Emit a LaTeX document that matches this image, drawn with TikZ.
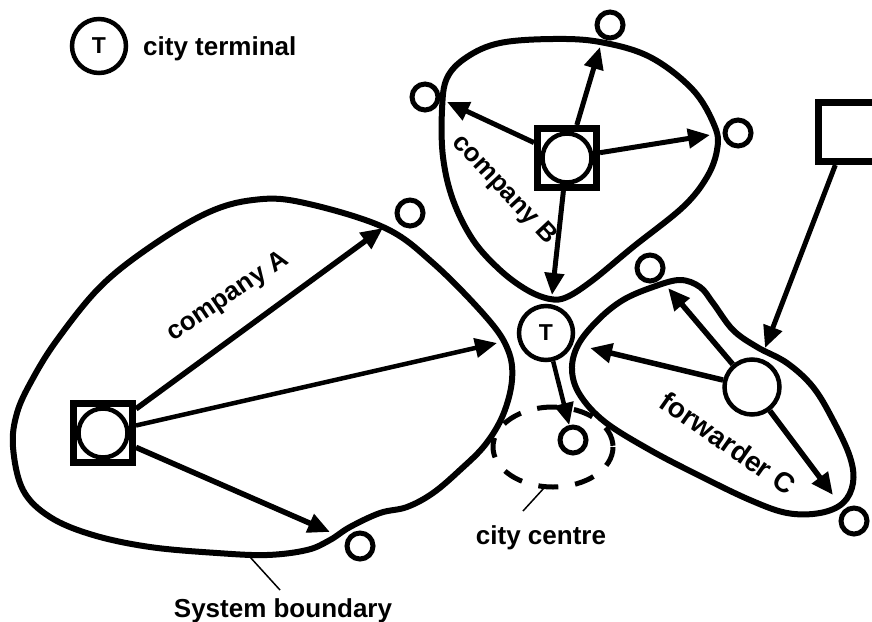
\documentclass[tikz,border=0pt]{standalone}
\usepackage{fontspec}
\setmainfont{Liberation Sans}
\usepackage{tikz}
\usetikzlibrary{arrows.meta,positioning}
\tikzstyle{arrow} = [line width=5.5pt,-{Triangle[length=22pt,width=19pt]}]

\begin{document}
\begin{tikzpicture}[x=1pt,y=-1pt]
    \tikzstyle{depot} = [rectangle, draw, line width=7pt, minimum size=59pt, inner sep=0pt, fill=white]
    \tikzstyle{hub} = [circle, draw, line width=4.5pt, minimum size=49pt, inner sep=0pt, fill=white]
    \tikzstyle{cust} = [circle, draw, line width=5pt, minimum size=26pt, inner sep=0pt]
    \tikzstyle{term} = [circle, draw, line width=4.5pt, minimum size=54pt, inner sep=0pt, font=\fontsize{23}{23}\selectfont\bfseries]
    \tikzstyle{region} = [line width=6pt, line join=round]
    \tikzstyle{lbl} = [font=\fontsize{26}{30}\selectfont\bfseries, inner sep=0pt]
    \tikzstyle{leader} = [line width=1.5pt]

    \clip (0,0) rectangle (872,621);

    % Boundaries
    \draw[region] plot[smooth cycle, tension=0.6] coordinates {
        (300,202) (383,227) (433,263) (487,318) (508,350) (512,380) (503,415)
        (485,445) (460,470) (433,493) (407,507) (380,513) (350,527) (330,540)
        (307,550) (267,555) (217,553) (150,547) (93,535) (50,517) (23,490)
        (13,447) (17,413) (32,380) (57,340) (100,287) (150,247) (207,213) (253,200)};
    \draw[region] plot[smooth cycle, tension=0.6] coordinates {
        (447,78) (467,57) (500,43) (553,39) (600,42) (650,57) (693,90) (715,127)
        (717,150) (707,177) (683,207) (633,247) (593,280) (567,297) (550,299)
        (527,290) (500,270) (473,240) (453,200) (443,157) (442,110)};
    \draw[region] plot[smooth cycle, tension=0.6] coordinates {
        (653,287) (680,280) (700,287) (713,303) (733,330) (757,347) (787,363)
        (813,387) (833,420) (850,457) (853,483) (843,503) (820,513) (787,513)
        (750,500) (700,476) (650,450) (605,422) (580,395) (572,370) (578,345)
        (598,320) (623,300)};
    \draw[line width=5pt, dash pattern=on 20pt off 17pt] (553,447) ellipse (60 and 40);

    % Legend
    \node[term] (legT) at (99,46) {T};
    \node[lbl, anchor=base west] (legtxt) at (143,55) {city terminal};

    % Nodes
    \node[depot] (depA) at (103,433) {};
    \node[hub] (hubA) at (depA) {};
    \node[depot] (depB) at (567,158) {};
    \node[hub] (hubB) at (depB) {};
    \node[hub, minimum size=55pt] (hubC) at (752,387) {};
    \node[depot] (box) at (848,132) {};
    \node[term] (term) at (546,333) {T};

    \node[cust] (custA1) at (410,213) {};
    \node[cust] (custA2) at (360,546) {};
    \node[cust] (custB1) at (610,25) {};
    \node[cust] (custB2) at (425,97) {};
    \node[cust] (custB3) at (738,133) {};
    \node[cust] (custCC) at (573,440) {};
    \node[cust] (custC1) at (650,268) {};
    \node[cust] (custC2) at (854,521) {};

    \coordinate (a1) at (383,228);
    \coordinate (a2) at (497,343);
    \coordinate (a3) at (330,532);
    \coordinate (b1) at (600,47);
    \coordinate (b2) at (447,102);
    \coordinate (b3) at (710,135);
    \coordinate (b4) at (552,295);
    \coordinate (c1) at (668,288);
    \coordinate (c2) at (590,348);
    \coordinate (c3) at (833,495);
    \coordinate (cin) at (765,348);

    % Arrows
    \draw[arrow] (depA) -- (a1);
    \draw[arrow, line width=4.5pt] (depA) -- (a2);
    \draw[arrow] (depA) -- (a3);
    \draw[arrow, line width=5pt] (depB) -- (b1);
    \draw[arrow, line width=5pt] (depB) -- (b2);
    \draw[arrow, line width=5pt] (depB) -- (b3);
    \draw[arrow, line width=5pt] (depB) -- (b4);
    \draw[arrow] (hubC) -- (c1);
    \draw[arrow] (hubC) -- (c2);
    \draw[arrow] (hubC) -- (c3);
    \draw[arrow, line width=5pt] (box) -- (cin);
    \draw[arrow, line width=4.5pt] (term) -- (custCC);

    % Labels
    \node[lbl, rotate=34] (labA) at (228,297) {company A};
    \node[lbl, rotate=-47] (labB) at (504,190) {company B};
    \node[lbl, rotate=-35, font=\fontsize{28}{30}\selectfont\bfseries] (labC) at (728,443) {forwarder C};
    \node[lbl, anchor=base] (cctxt) at (541,544) {city centre};
    \node[lbl, anchor=base] (sbtxt) at (283,617) {System boundary};
    \coordinate (ccend) at (544,488);
    \coordinate (ccfoot) at (523,511);
    \coordinate (sbend) at (250,557);
    \coordinate (sbfoot) at (280,590);
    \draw[leader] (ccend) -- (ccfoot);
    \draw[leader] (sbend) -- (sbfoot);
\end{tikzpicture}
\end{document}
